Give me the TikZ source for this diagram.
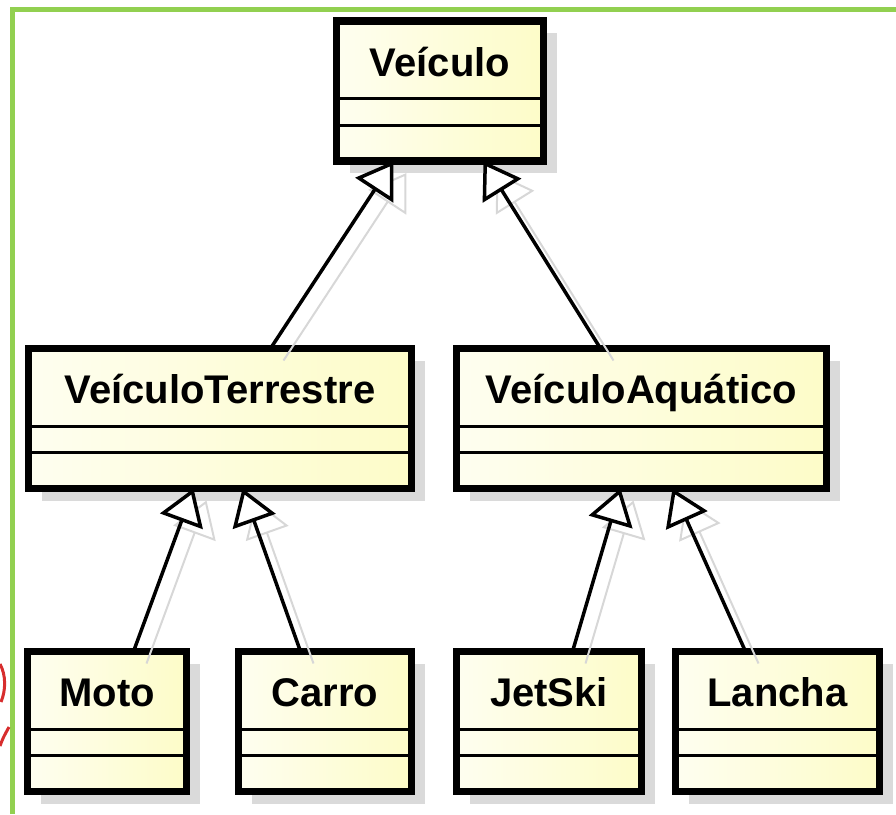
\documentclass[tikz,border=0pt]{standalone}
\usepackage{fontspec}
\setmainfont{Liberation Sans}
\usetikzlibrary{arrows.meta,calc,shadows}
\definecolor{frameGreen}{RGB}{146,208,80}
\definecolor{fillA}{RGB}{254,254,240}
\definecolor{fillB}{RGB}{253,252,200}
\definecolor{shadowGray}{RGB}{218,218,218}
\definecolor{ghostGray}{RGB}{215,215,215}
\definecolor{markRed}{RGB}{215,45,45}
\tikzset{
  classbox/.style={draw=black, line width=7.5pt, left color=fillA, right color=fillB,
    inner sep=0pt, outer sep=0pt, minimum height=140pt,
    drop shadow={shadow xshift=13pt, shadow yshift=-12pt, fill=shadowGray, opacity=1}},
  sepline/.style={draw=black, line width=3pt},
  lbl/.style={anchor=base, inner sep=0pt, font=\bfseries\fontsize{40}{44}\selectfont},
  gen/.style={line width=3.5pt, -{Triangle[length=35pt, width=45pt, fill=white, line width=3.5pt]}},
  ghost/.style={draw=ghostGray, line width=2pt, -{Triangle[open, length=35pt, width=45pt, line width=2pt]},
    transform canvas={shift={(13pt,-12pt)}}}
}
\begin{document}
\begin{tikzpicture}[x=1pt, y=-1pt]
\useasboundingbox (0,0) rectangle (896,814);
% green frame
\draw[frameGreen, line width=5pt] (12,814) -- (12,9) -- (896,9);
% red mark
\draw[markRed, line width=3pt] (0,664) .. controls (6,675) and (6,690) .. (1,702);
\draw[markRed, line width=3pt] (0,746) .. controls (3,738) .. (9,727);

% classes
\node[classbox, minimum width=207pt] (veh) at (440,91) {};
\node[classbox, minimum width=383pt] (tv) at (220,418.5) {};
\node[classbox, minimum width=370pt] (va) at (641.5,418.5) {};
\node[classbox, minimum width=159pt] (moto) at (107,721.5) {};
\node[classbox, minimum width=173pt] (carro) at (325,721.5) {};
\node[classbox, minimum width=185pt] (jet) at (549,721.5) {};
\node[classbox, minimum width=204pt] (lancha) at (777.5,721.5) {};

\foreach \b in {veh,tv,va,moto,carro,jet,lancha}{
  \draw[sepline] ($(\b.north west)+(0,77.5)$) -- ($(\b.north east)+(0,77.5)$);
  \draw[sepline] ($(\b.north west)+(0,104)$) -- ($(\b.north east)+(0,104)$);
}

\node[lbl] (vehT) at ($(veh.north)+(0,55)$) {Veículo};
\node[lbl] (tvT) at ($(tv.north)+(0,55)$) {VeículoTerrestre};
\node[lbl] (vaT) at ($(va.north)+(0,55)$) {VeículoAquático};
\node[lbl] (motoT) at ($(moto.north)+(0,55)$) {Moto};
\node[lbl] (carroT) at ($(carro.north)+(0,55)$) {Carro};
\node[lbl] (jetT) at ($(jet.north)+(0,55)$) {JetSki};
\node[lbl] (lanchaT) at ($(lancha.north)+(0,55)$) {Lancha};

% ghost connectors
\draw[ghost] ($(tv.north west)+(242,0)$) -- ($(veh.south west)+(57,0)$);
\draw[ghost] ($(va.north west)+(144,0)$) -- ($(veh.south west)+(147,0)$);
\draw[ghost] ($(moto.north west)+(106,0)$) -- ($(tv.south west)+(165,0)$);
\draw[ghost] ($(carro.north west)+(62,0)$) -- ($(tv.south west)+(214,0)$);
\draw[ghost] ($(jet.north west)+(116,0)$) -- ($(va.south west)+(164,0)$);
\draw[ghost] ($(lancha.north west)+(70,0)$) -- ($(va.south west)+(216,0)$);

% generalisation connectors
\draw[gen] ($(tv.north west)+(242,0)$) -- ($(veh.south west)+(57,0)$);
\draw[gen] ($(va.north west)+(144,0)$) -- ($(veh.south west)+(147,0)$);
\draw[gen] ($(moto.north west)+(106,0)$) -- ($(tv.south west)+(165,0)$);
\draw[gen] ($(carro.north west)+(62,0)$) -- ($(tv.south west)+(214,0)$);
\draw[gen] ($(jet.north west)+(116,0)$) -- ($(va.south west)+(164,0)$);
\draw[gen] ($(lancha.north west)+(70,0)$) -- ($(va.south west)+(216,0)$);
\end{tikzpicture}
\end{document}
